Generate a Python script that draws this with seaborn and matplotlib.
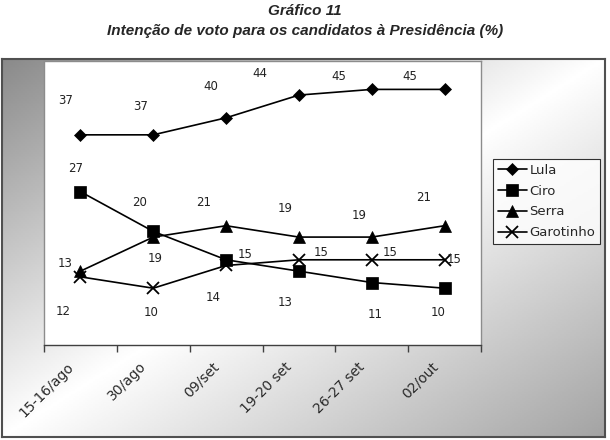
import numpy as np
import pandas as pd
import matplotlib
matplotlib.use("Agg")
import matplotlib.pyplot as plt
import matplotlib.transforms as mtransforms
import seaborn as sns

# Poll dates and vote intention (%) per candidate
DATES = ["15-16/ago", "30/ago", "09/set", "19-20 set", "26-27 set", "02/out"]
LULA = [37, 37, 40, 44, 45, 45]
CIRO = [27, 20, 15, 13, 11, 10]
SERRA = [13, 19, 21, 19, 19, 21]
GAROTINHO = [12, 10, 14, 15, 15, 15]

# value label offsets in pixels (dx, dy up), as placed in the original
LABEL_OFFSETS = {
    "Lula": [(-15, 34), (-13, 28), (-15, 31), (-39, 22), (-33, 13), (-35, 13)],
    "Ciro": [(-5, 23), (-14, 29), (19, 5), (-14, -31), (3, -32), (-6, -24)],
    "Serra": [(-15, 8), (2, -21), (-22, 23), (-14, 29), (-13, 22), (-21, 28)],
    "Garotinho": [(-17, -35), (-2, -24), (-13, -32), (22, 7), (18, 7), (10, 0)],
}

series = {"Lula": LULA, "Ciro": CIRO, "Serra": SERRA, "Garotinho": GAROTINHO}
markers = {"Lula": "D", "Ciro": "s", "Serra": "^", "Garotinho": "x"}
msizes = {"Lula": 6, "Ciro": 8, "Serra": 8, "Garotinho": 9}

df = pd.DataFrame({
    "pos": np.tile(np.arange(len(DATES)), len(series)),
    "candidato": np.repeat(list(series.keys()), len(DATES)),
    "valor": np.concatenate([series[k] for k in series]),
})

sns.set_style("white")
plt.rcParams["font.family"] = ["DejaVu Sans"]

fig = plt.figure(figsize=(6.1, 4.4), dpi=100)

# gradient panel behind the chart
bg = fig.add_axes([2 / 610, 3 / 440, 603 / 610, 378 / 440], zorder=0)
u = np.linspace(0, 1, 300)
v = np.linspace(0, 1, 200)
U, V = np.meshgrid(u, v)
t = (U + V) / 2
grad = np.where(t < 0.5, 0.54 + 0.46 * (t / 0.5), 1.0 - 0.36 * ((t - 0.5) / 0.5))
bg.imshow(grad, cmap="gray", vmin=0, vmax=1, aspect="auto", extent=[0, 1, 0, 1])
bg.set_xticks([])
bg.set_yticks([])
for sp in bg.spines.values():
    sp.set_edgecolor("#505050")
    sp.set_linewidth(1.5)

ax = fig.add_axes([44 / 610, 95 / 440, 437 / 610, 284 / 440], zorder=1)
ax.set_facecolor("white")

for name in series:
    sub = df[df["candidato"] == name]
    sns.lineplot(data=sub, x="pos", y="valor", ax=ax, color="black",
                 marker=markers[name], markersize=msizes[name],
                 markeredgecolor="black", markerfacecolor="black",
                 markeredgewidth=1.3 if name == "Garotinho" else 0.5,
                 linewidth=1.2, label=name, legend=False)
    for i, val in enumerate(series[name]):
        dx, dy = LABEL_OFFSETS[name][i]
        ax.annotate(str(val), (i, val), xytext=(dx, dy), textcoords="offset pixels",
                    ha="center", va="center", fontsize=8.5, color="#222222")

ax.set_xlim(-0.5, len(DATES) - 0.5)
ax.set_ylim(0, 50)
ax.set_xlabel("")
ax.set_ylabel("")
ax.set_yticks([])
ax.set_xticks(np.arange(-0.5, len(DATES)), labels=[])
ax.set_xticks(np.arange(len(DATES)), labels=DATES, minor=True)
ax.tick_params(axis="x", which="major", direction="out", length=5, width=1, color="#404040", bottom=True)
ax.tick_params(axis="x", which="minor", length=0, pad=14, labelsize=10, labelcolor="#2a2a2a")
shift = mtransforms.ScaledTranslation(-9 / 100, 0, fig.dpi_scale_trans)
for lab in ax.get_xticklabels(minor=True):
    lab.set_rotation(45)
    lab.set_ha("right")
    lab.set_va("center")
    lab.set_rotation_mode("anchor")
    lab.set_transform(lab.get_transform() + shift)
for k, sp in ax.spines.items():
    sp.set_visible(True)
    sp.set_edgecolor("#8c8c8c")
    sp.set_linewidth(1)
ax.spines["bottom"].set_edgecolor("#404040")

handles, labels = ax.get_legend_handles_labels()
leg = fig.legend(handles, labels, loc="upper left", bbox_to_anchor=(493 / 610, 1 - 159 / 440),
                 frameon=True, fancybox=False, fontsize=9.5, handlelength=2.2,
                 handletextpad=0.2, labelspacing=0.6, borderpad=0.35, borderaxespad=0)
leg.get_frame().set_edgecolor("black")
leg.get_frame().set_linewidth(0.8)
leg.set_zorder(5)

title_family = ["Liberation Sans", "DejaVu Sans"]
fig.text(0.5, 1 - 11 / 440, "Gráfico 11", ha="center", va="center", fontsize=11,
         fontweight="bold", fontstyle="italic", family=title_family)
fig.text(0.5, 1 - 31 / 440, "Intenção de voto para os candidatos à Presidência (%)",
         ha="center", va="center", fontsize=11, fontweight="bold", fontstyle="italic",
         family=title_family)

fig.savefig("out.png", dpi=100, facecolor="white")
